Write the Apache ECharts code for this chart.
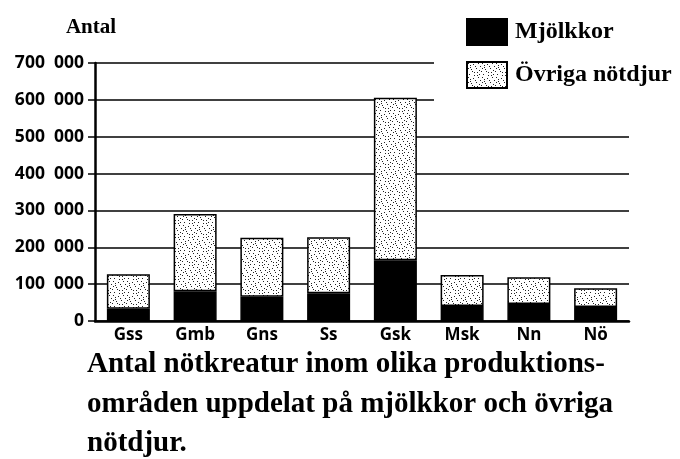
<!DOCTYPE html>
<html><head><meta charset="utf-8">
<script src="https://cdn.jsdelivr.net/npm/echarts@6/dist/echarts.min.js"></script>
<style>html,body{margin:0;padding:0;background:#fff}#c{width:680px;height:459px}</style>
</head><body><div id="c"></div>
<script>
const categories = ['Gss','Gmb','Gns','Ss','Gsk','Msk','Nn','Nö'];
const mjolkkor = [33000, 81000, 66000, 75000, 165000, 41000, 46000, 38000];
const ovriga = [94000, 209000, 160000, 152000, 441000, 84000, 73000, 51000];
const yTicks = [0, 100000, 200000, 300000, 400000, 500000, 600000, 700000];
const seriesNames = ['Mjölkkor', 'Övriga nötdjur'];
const titleLines = ['Antal nötkreatur inom olika produktions-', 'områden uppdelat på mjölkkor och övriga', 'nötdjur.'];

// stipple texture
const tile = document.createElement('canvas');
tile.width = 14; tile.height = 14;
const tc = tile.getContext('2d');
tc.fillStyle = '#fff'; tc.fillRect(0,0,14,14);
tc.fillStyle = '#222';
[[1,1],[6,2],[11,1],[3,5],[9,6],[13,4],[0,9],[5,9],[10,10],[2,12],[7,13],[12,12],[8,4],[4,7],
 [12,8],[7,10],[3,3],[10,13],[1,6]].forEach(p=>tc.fillRect(p[0],p[1],1,1));

const serif = '"Liberation Serif", "Times New Roman", serif';
const sans = '"Open Sans", "DejaVu Sans", sans-serif';

const chart = echarts.init(document.getElementById('c'), null, {renderer:'canvas'});
chart.setOption({
  animation: false,
  backgroundColor: '#fff',
  grid: {left: 95, right: 51, top: 63, bottom: 138},
  title: {
    text: titleLines.join('\n'), left: 82, top: 340,
    textStyle: {fontFamily: serif, fontWeight: 'bold', fontSize: 29, lineHeight: 39.5, color: '#000'}
  },
  legend: {
    orient: 'vertical', left: 466, top: 18, padding: 0, itemWidth: 40, itemHeight: 26, itemGap: 15, z: 10,
    data: seriesNames,
    textStyle: {fontFamily: serif, fontWeight: 'bold', fontSize: 24, color: '#000', padding: [0,0,0,3]},
    icon: 'rect'
  },
  graphic: [{type: 'rect', shape: {x: 434, y: 50, width: 200, height: 56}, style: {fill: '#fff'}, z: 5, silent: true}],
  xAxis: {
    type: 'category', data: categories,
    axisLine: {lineStyle: {color: '#000', width: 2.5}},
    axisTick: {show: false},
    axisLabel: {color: '#000', fontFamily: sans, fontWeight: 'bold', fontSize: 17, margin: 6}
  },
  yAxis: {
    type: 'value', min: 0, max: 700000, interval: 100000,
    name: 'Antal', nameLocation: 'end', nameGap: 25,
    nameTextStyle: {fontFamily: serif, fontWeight: 'bold', fontSize: 21, color: '#000', padding: [0, 8, 0, 0]},
    axisLine: {show: true, lineStyle: {color: '#000', width: 2.5}},
    axisTick: {show: true, length: 7, lineStyle: {color: '#000', width: 1.5}},
    splitLine: {lineStyle: {color: '#000', width: 1.5}},
    axisLabel: {
      color: '#000', fontFamily: sans, fontWeight: 'bold', fontSize: 17.5, margin: 11,
      customValues: yTicks,
      formatter: v => v === 0 ? '0' : (v/1000) + '  000'
    }
  },
  series: [
    {name: seriesNames[0], type: 'bar', stack: 'a', data: mjolkkor, barWidth: 43,
     itemStyle: {color: '#000', borderColor: '#000', borderWidth: 1.5}},
    {name: seriesNames[1], type: 'bar', stack: 'a', data: ovriga, barWidth: 43,
     itemStyle: {color: {image: tile, repeat: 'repeat'}, borderColor: '#000', borderWidth: 1.5}}
  ]
});
</script></body></html>
